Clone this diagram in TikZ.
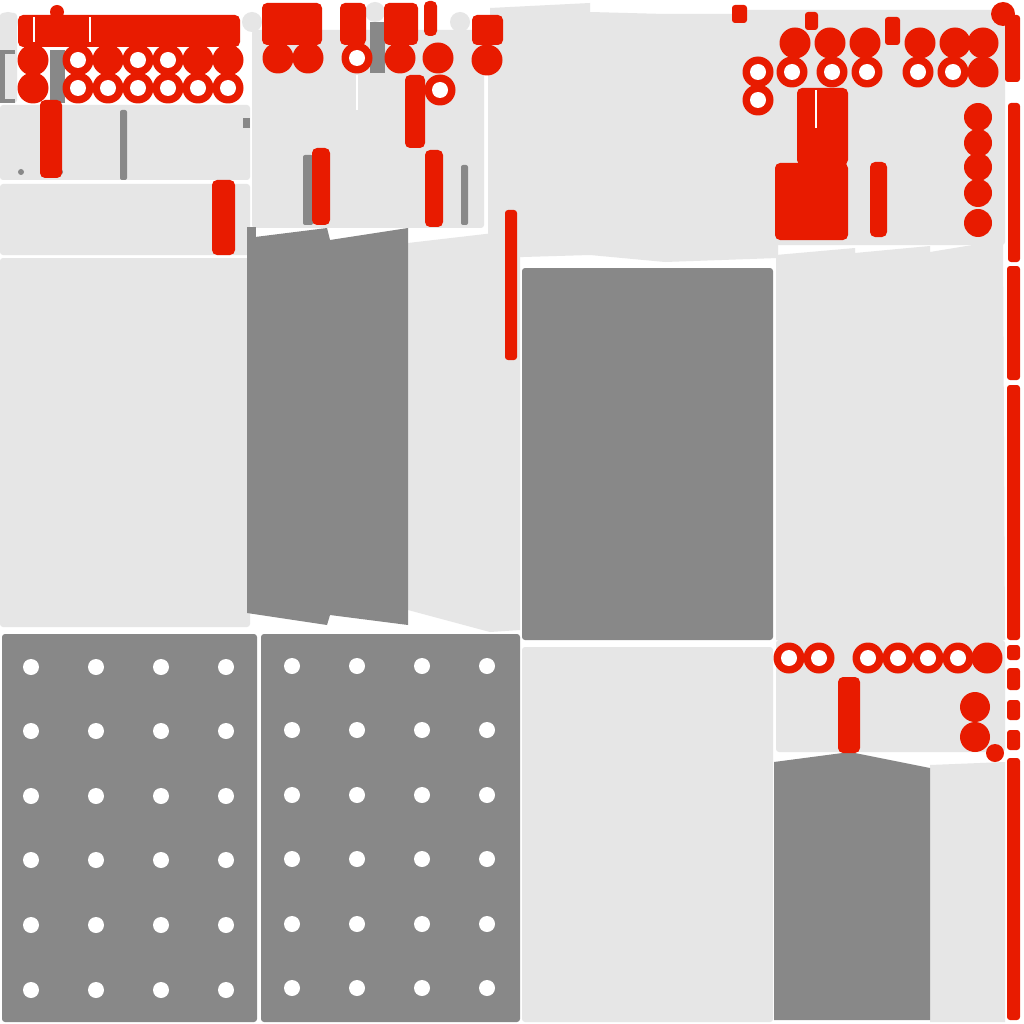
\documentclass[tikz,border=0pt]{standalone}
\definecolor{lg}{HTML}{E6E6E6}
\definecolor{dg}{HTML}{888888}
\definecolor{rd}{HTML}{E81B00}
\tikzset{
  lgp/.style={fill=lg,rounded corners=3pt},
  dgp/.style={fill=dg,rounded corners=3pt},
  rdp/.style={fill=rd,rounded corners=5pt},
}
\newcommand{\ringat}[2]{\fill[rd] (#1,#2) circle (15.5); \fill[white] (#1,#2) circle (8);}
\newcommand{\dotat}[2]{\fill[rd] (#1,#2) circle (15.5);}
\begin{document}
\begin{tikzpicture}[x=1pt,y=-1pt]
\useasboundingbox[fill=white] (0,0) rectangle (1024,1024);
% ---------- light panels ----------
\fill[lgp] (0,105) rectangle (250,180);
\fill[lgp] (0,184) rectangle (250,255);
\fill[lgp] (0,258) rectangle (250,627);
\fill[lgp] (0,13) rectangle (17,103);
\fill[lg] (8,22) circle (10);
\fill[lg] (252,22) circle (10);
\fill[lg] (375,12) circle (10);
\fill[lg] (460,22) circle (10);
\fill[lgp] (252,30) rectangle (484,228);
\fill[white] (356,75) rectangle (358,110);
\fill[lgp] (488,20) rectangle (520,236);
\fill[lg] (490,8) -- (590,3) -- (590,12) -- (665,14) -- (778,14) -- (778,258) -- (665,262) -- (590,255) -- (490,258) -- cycle;
\fill[lgp] (742,10) rectangle (1005,245);
\fill[lg] (776,255) -- (855,248) -- (855,253) -- (930,246) -- (930,252) -- (1003,240) -- (1005,640) -- (776,640) -- cycle;
\fill[lg] (408,243) -- (520,230) -- (520,630) -- (490,632) -- (408,610) -- cycle;
\fill[lgp] (522,647) rectangle (773,1022);
\fill[lgp] (776,640) rectangle (1005,752);
\fill[lg] (930,765) -- (1005,762) -- (1005,1022) -- (930,1022) -- cycle;
% ---------- dark panels ----------
\fill[dg] (247,238) -- (327,228) -- (330,240) -- (408,228) -- (408,625) -- (330,615) -- (327,625) -- (247,613) -- cycle;
\fill[dg] (247,227) rectangle (256,245);
\fill[dgp] (522,268) rectangle (773,640);
\fill[dgp] (2,634) rectangle (257,1022);
\fill[dgp] (261,634) rectangle (520,1022);
\foreach \x in {31,96,161,226} \foreach \y in {667,731,796,860,925,990} \fill[white] (\x,\y) circle (8);
\foreach \x in {292,357,422,487} \foreach \y in {666,730,795,859,924,988} \fill[white] (\x,\y) circle (8);
\fill[dg] (774,762) -- (850,752) -- (930,768) -- (930,1020) -- (774,1020) -- cycle;
% small dark bits
\fill[dg] (50,50) rectangle (65,103);
\fill[dg] (0,50) rectangle (5,103);
\fill[dg] (0,50) rectangle (15,54);
\fill[dg] (0,99) rectangle (15,103);
\fill[dg,rounded corners=2pt] (120,110) rectangle (127,180);
\fill[dg] (243,118) rectangle (250,128);
\fill[dg] (370,22) rectangle (385,73);
\fill[dg,rounded corners=2pt] (303,155) rectangle (313,225);
\fill[dg,rounded corners=2pt] (461,165) rectangle (468,225);
\fill[dg] (21,172) circle (3);
\fill[dg] (60,172) circle (3);
% ---------- red: top-left ----------
\fill[rd] (57,12) circle (7);
\fill[rdp] (18,15) rectangle (240,47);
\fill[white] (33,17) rectangle (35,42);
\fill[white] (89,17) rectangle (91,42);
\dotat{33}{60} \dotat{33}{88}
\dotat{108}{60} \dotat{198}{60} \dotat{228}{60}
\foreach \x in {78,138,168} {\ringat{\x}{60}}
\foreach \x in {78,108,138,168,198,228} {\ringat{\x}{88}}
\fill[rdp] (40,100) rectangle (62,178);
\fill[rdp] (212,180) rectangle (235,255);
% ---------- red: top-middle ----------
\fill[rdp] (262,3) rectangle (322,45);
\dotat{278}{58} \dotat{308}{58}
\fill[rdp] (340,3) rectangle (366,45);
\ringat{357}{58}
\fill[rdp] (384,3) rectangle (418,45);
\dotat{400}{58}
\fill[rdp] (424,1) rectangle (437,36);
\fill[rdp] (405,75) rectangle (425,148);
\dotat{438}{58}
\ringat{440}{90}
\fill[rdp] (472,15) rectangle (503,45);
\dotat{487}{60}
\fill[rdp] (312,148) rectangle (330,225);
\fill[rdp] (425,150) rectangle (443,227);
\fill[rd,rounded corners=3pt] (505,210) rectangle (517,360);
% ---------- red: top-right ----------
\fill[rd,rounded corners=3pt] (732,5) rectangle (747,23);
\fill[rd,rounded corners=3pt] (805,12) rectangle (818,30);
\fill[rd,rounded corners=3pt] (885,17) rectangle (900,45);
\foreach \x in {795,830,865,920,955,983} {\dotat{\x}{43}}
\foreach \x in {758,792,832,867,918,953} {\ringat{\x}{72}}
\dotat{983}{72}
\ringat{758}{100}
\fill[rd] (1003,14) circle (12);
\fill[rd,rounded corners=3pt] (1005,15) rectangle (1020,82);
\fill[rd,rounded corners=3pt] (1008,103) rectangle (1020,262);
\fill[rdp] (797,88) rectangle (848,165);
\fill[rdp] (775,163) rectangle (848,240);
\fill[white] (815,90) rectangle (817,128);
\fill[rdp] (870,162) rectangle (887,237);
\foreach \y in {117,143,167,193,223} {\fill[rd] (978,\y) circle (14);}
% ---------- red: right dashed line ----------
\foreach \a/\b in {266/380, 385/640, 645/660, 668/690, 700/720, 730/750, 758/1020}
  {\fill[rd,rounded corners=3pt] (1007,\a) rectangle (1020,\b);}
% ---------- red: bottom-right ----------
\fill[lg] (845,658) circle (14);
\ringat{789}{658} \ringat{819}{658}
\foreach \x in {868,898,928,958} {\ringat{\x}{658}}
\dotat{987}{658}
\fill[rdp] (838,677) rectangle (860,753);
\fill[rd] (975,707) circle (15);
\fill[rd] (975,737) circle (15);
\fill[rd] (995,753) circle (9);
\end{tikzpicture}
\end{document}
